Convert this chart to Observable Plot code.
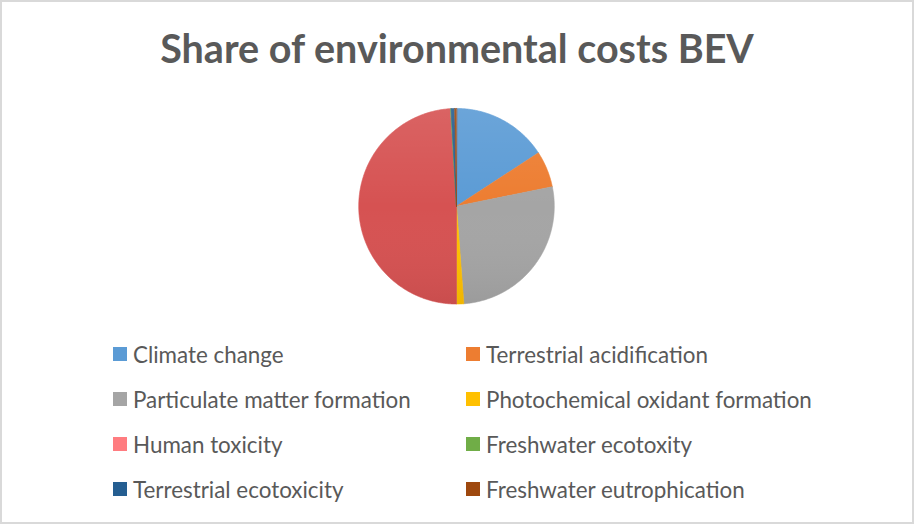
<!DOCTYPE html>
<html>
<head>
<meta charset="utf-8">
<script src="https://cdn.jsdelivr.net/npm/d3@7"></script>
<script src="https://cdn.jsdelivr.net/npm/@observablehq/plot@0.6"></script>
<style>
  html, body { margin: 0; padding: 0; background: #fff; }
  #chart {
    position: relative; width: 914px; height: 524px; box-sizing: border-box;
    border: 2px solid #d9d9d9; background: #fff; overflow: hidden;
    font-family: Lato, "Open Sans", sans-serif; color: #595959;
  }
  #title {
    position: absolute; left: 0; right: 0; top: 22px; text-align: center;
    font-weight: bold; font-size: 39.5px; line-height: 48px; color: #595959;
  }
  #pie { position: absolute; left: -2px; top: 98px; }
  #legend { position: absolute; left: 0; top: 0; width: 100%; height: 100%; }
  .item { position: absolute; display: flex; align-items: center; font-size: 22.4px; height: 24px; white-space: nowrap; }
  .sw { width: 14px; height: 14px; margin-right: 6px; flex: none; }
</style>
</head>
<body>
<div id="chart">
  <div id="title">Share of environmental costs BEV</div>
  <div id="pie"></div>
  <div id="legend"></div>
</div>
<script>
// Impact categories, in drawing order (clockwise from 12 o'clock)
const categories = [
  "Climate change",
  "Terrestrial acidification",
  "Particulate matter formation",
  "Photochemical oxidant formation",
  "Human toxicity",
  "Freshwater ecotoxity",
  "Terrestrial ecotoxicity",
  "Freshwater eutrophication"
];
// Share of total environmental cost, percent
const shares = [15.8, 6.0, 27.0, 1.2, 49.0, 0.1, 0.6, 0.3];
// Slice fills and legend swatch fills
const sliceColors = ["#5b9bd5", "#ed7d31", "#a5a5a5", "#ffc000", "#d65252", "#70ad47", "#255e91", "#9e480e"];
const swatchColors = ["#5b9bd5", "#ed7d31", "#a5a5a5", "#ffc000", "#ff7c80", "#70ad47", "#255e91", "#9e480e"];

const table = categories.map((name, i) => ({name, share: shares[i]}));

// Turn each pie arc into a closed polygon in unit-circle data space
const arcs = d3.pie().sort(null).value(d => d.share)(table);
const points = [];
for (const a of arcs) {
  points.push({name: a.data.name, x: 0, y: 0});
  const steps = Math.max(2, Math.ceil((a.endAngle - a.startAngle) / (Math.PI / 360)));
  for (let k = 0; k <= steps; k++) {
    const t = a.startAngle + (a.endAngle - a.startAngle) * k / steps;
    points.push({name: a.data.name, x: Math.sin(t), y: Math.cos(t)});
  }
}
// Full disc used for the soft top-to-bottom shading
const disc = d3.range(0, 721).map(k => ({x: Math.sin(k * Math.PI / 360), y: Math.cos(k * Math.PI / 360)}));

const W = 914, H = 212, R = 98;
const pie = Plot.plot({
  width: W, height: H,
  margin: 0,
  x: {domain: [-W / 2 / R, W / 2 / R], axis: null},
  y: {domain: [-H / 2 / R, H / 2 / R], axis: null},
  color: {domain: categories, range: sliceColors},
  marks: [
    () => {
      const svg = d3.create("svg:g");
      const g = svg.append("defs").append("linearGradient")
        .attr("id", "pie-shade").attr("x1", 0).attr("y1", 0).attr("x2", 0).attr("y2", 1);
      g.append("stop").attr("offset", "0%").attr("stop-color", "#fff").attr("stop-opacity", 0.10);
      g.append("stop").attr("offset", "50%").attr("stop-color", "#fff").attr("stop-opacity", 0);
      g.append("stop").attr("offset", "100%").attr("stop-color", "#000").attr("stop-opacity", 0.06);
      return svg.node();
    },
    Plot.line(points, {
      x: "x", y: "y", z: "name",
      fill: "name", stroke: "name", strokeWidth: 0.6,
      curve: "linear-closed"
    }),
    Plot.line(disc, {x: "x", y: "y", fill: "url(#pie-shade)", stroke: null, curve: "linear-closed"})
  ]
});
document.getElementById("pie").appendChild(pie);

// Two-column legend beneath the pie
const legend = document.getElementById("legend");
const colX = [111, 464];
const rowY = [340, 385, 430, 475];
categories.forEach((name, i) => {
  const el = document.createElement("div");
  el.className = "item";
  el.style.left = colX[i % 2] + "px";
  el.style.top = rowY[Math.floor(i / 2)] + "px";
  const sw = document.createElement("span");
  sw.className = "sw";
  sw.style.background = swatchColors[i];
  el.appendChild(sw);
  el.appendChild(document.createTextNode(name));
  legend.appendChild(el);
});
</script>
</body>
</html>
